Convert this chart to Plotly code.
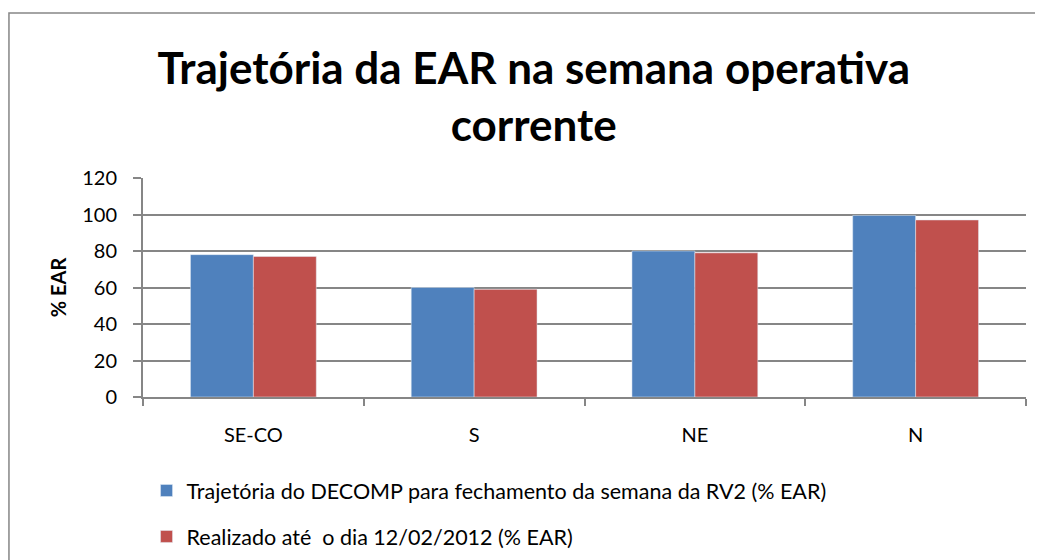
import plotly.graph_objects as go

categories = ["SE-CO", "S", "NE", "N"]
decomp = [78, 60, 80, 99.5]
realizado = [77, 59, 79, 97]
series_names = ["Trajetória do DECOMP para fechamento da semana da RV2 (% EAR)",
                "Realizado até  o dia 12/02/2012 (% EAR)"]
y_ticks = [0, 20, 40, 60, 80, 100, 120]

FONT = "Lato"
GRAY = "#868686"
fig = go.Figure()
fig.add_trace(go.Bar(x=categories, y=decomp, name=series_names[0],
                     marker_color="#4F81BD", legendgroup="a"))
fig.add_trace(go.Bar(x=categories, y=realizado, name=series_names[1],
                     marker_color="#C0504D", legendgroup="b"))

fig.update_layout(
    width=1035, height=552,
    margin=dict(l=135, r=17, t=170, b=163, autoexpand=False),
    paper_bgcolor="white", plot_bgcolor="white",
    barmode="group", bargap=0.43, bargroupgap=0,
    font=dict(family=FONT, color="black", size=20),
    title=dict(text="<b>Trajetória da EAR na semana operativa<br>corrente</b>",
               x=0.508, xanchor="center", y=0.862, yanchor="middle",
               font=dict(family=FONT, size=44, color="black")),
    showlegend=True,
    legend=dict(x=0.004, xanchor="left", y=0.163, yanchor="top", yref="container",
                orientation="v", font=dict(size=21.5, family=FONT),
                tracegroupgap=15, itemwidth=30, bgcolor="rgba(0,0,0,0)"),
    shapes=[dict(type="rect", xref="paper", yref="paper",
                 x0=-0.1518, x1=1.2, y0=-0.9, y1=1.7534,
                 line=dict(color=GRAY, width=1.5), layer="below")],
)
fig.update_xaxes(showline=True, linecolor=GRAY, linewidth=2,
                 ticks="outside", tickson="boundaries", ticklen=7, tickcolor=GRAY,
                 tickwidth=2, showgrid=False, tickfont=dict(size=20),
                 ticklabelstandoff=19)
fig.update_yaxes(range=[0, 120], tickvals=y_ticks, showline=True, linecolor=GRAY,
                 linewidth=2, ticks="outside", ticklen=8, tickcolor=GRAY, tickwidth=2,
                 showgrid=True, gridcolor=GRAY, gridwidth=2,
                 ticklabelstandoff=12,
                 title=dict(text="<b>% EAR</b>", font=dict(size=20), standoff=10),
                 tickfont=dict(size=20), zeroline=False)

fig.write_html("out.html")
